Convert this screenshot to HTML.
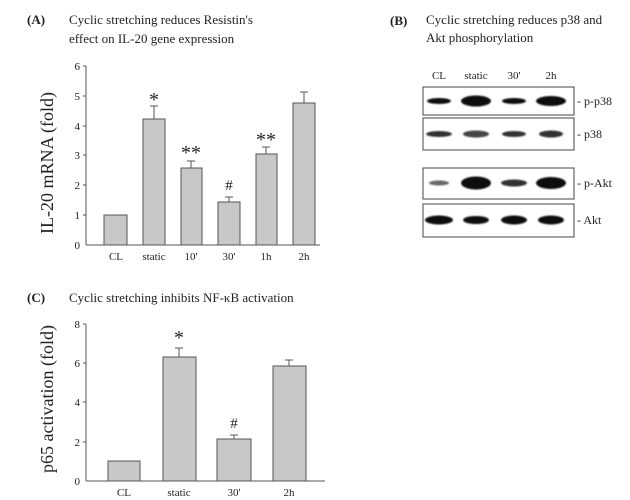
<!DOCTYPE html>
<html><head><meta charset="utf-8"><style>body{margin:0;background:#fff}svg{display:block}</style></head><body>
<svg width="630" height="500" xmlns="http://www.w3.org/2000/svg" font-family="Liberation Serif, serif" fill="#222">
<defs><filter id="b" x="-30%" y="-100%" width="160%" height="300%"><feGaussianBlur stdDeviation="0.9"/></filter></defs>
<!-- Panel A -->
<text x="27" y="24" font-size="13" font-weight="bold">(A)</text>
<text x="69" y="24" font-size="13">Cyclic stretching reduces Resistin's</text>
<text x="69" y="43" font-size="13">effect on IL-20 gene expression</text>
<g stroke="#555" stroke-width="1">
<line x1="86" y1="66" x2="86" y2="245"/><line x1="86" y1="245" x2="320" y2="245"/>
<line x1="83" y1="66" x2="86" y2="66"/><line x1="83" y1="96" x2="86" y2="96"/><line x1="83" y1="126" x2="86" y2="126"/><line x1="83" y1="155" x2="86" y2="155"/><line x1="83" y1="185" x2="86" y2="185"/><line x1="83" y1="215" x2="86" y2="215"/>
</g>
<g font-size="11" text-anchor="end"><text x="80" y="70">6</text><text x="80" y="100">5</text><text x="80" y="130">4</text><text x="80" y="159">3</text><text x="80" y="189">2</text><text x="80" y="219">1</text><text x="80" y="249">0</text></g>
<text transform="translate(53,163) rotate(-90)" font-size="18" text-anchor="middle">IL-20 mRNA (fold)</text>
<g fill="#c8c8c8" stroke="#555">
<rect x="104" y="215" width="23" height="30"/><rect x="143" y="119" width="22" height="126"/><rect x="181" y="168" width="21" height="77"/><rect x="218" y="202" width="22" height="43"/><rect x="256" y="154" width="21" height="91"/><rect x="293" y="103" width="22" height="142"/>
</g>
<g stroke="#555"><path d="M154 119V106M150 106H158M191 168V161M187 161H195M229 202V197M225 197H233M266 154V147M262 147H270M304 103V92M300 92H308"/></g>
<g font-size="20" text-anchor="middle"><text x="154" y="106">*</text><text x="191" y="159">**</text><text x="266" y="146">**</text><text x="229" y="190" font-size="15">#</text></g>
<g font-size="11" text-anchor="middle"><text x="116" y="260">CL</text><text x="154" y="260">static</text><text x="191" y="260">10'</text><text x="229" y="260">30'</text><text x="266" y="260">1h</text><text x="304" y="260">2h</text></g>
<!-- Panel B -->
<text x="390" y="25" font-size="13" font-weight="bold">(B)</text>
<text x="426" y="24" font-size="13">Cyclic stretching reduces p38 and</text>
<text x="426" y="42" font-size="13">Akt phosphorylation</text>
<g font-size="11" text-anchor="middle"><text x="439" y="79">CL</text><text x="476" y="79">static</text><text x="514" y="79">30'</text><text x="551" y="79">2h</text></g>
<g fill="#fff" stroke="#444"><rect x="423" y="87" width="151" height="28"/><rect x="423" y="118" width="151" height="32"/><rect x="423" y="168" width="151" height="31"/><rect x="423" y="204" width="151" height="33"/></g>
<g fill="#111" filter="url(#b)">
<ellipse cx="439" cy="101" rx="12" ry="3"/><ellipse cx="476" cy="101" rx="15" ry="5.5"/><ellipse cx="514" cy="101" rx="12" ry="3"/><ellipse cx="551" cy="101" rx="15" ry="5"/>
<ellipse cx="439" cy="134" rx="13" ry="3" fill="#333"/><ellipse cx="476" cy="134" rx="13" ry="3.5" fill="#444"/><ellipse cx="514" cy="134" rx="12" ry="3" fill="#333"/><ellipse cx="551" cy="134" rx="12" ry="3.5" fill="#333"/>
<ellipse cx="439" cy="183" rx="10" ry="2.5" fill="#666"/><ellipse cx="476" cy="183" rx="15" ry="6.5"/><ellipse cx="514" cy="183" rx="13" ry="3.5" fill="#333"/><ellipse cx="551" cy="183" rx="15" ry="6"/>
<ellipse cx="439" cy="220" rx="14" ry="4.5"/><ellipse cx="476" cy="220" rx="13" ry="4"/><ellipse cx="514" cy="220" rx="13" ry="4.5"/><ellipse cx="551" cy="220" rx="13" ry="4.5"/>
</g>
<g font-size="12"><text x="577" y="105">- p-p38</text><text x="577" y="138">- p38</text><text x="577" y="187">- p-Akt</text><text x="577" y="224">- Akt</text></g>
<!-- Panel C -->
<text x="27" y="302" font-size="13" font-weight="bold">(C)</text>
<text x="69" y="302" font-size="13">Cyclic stretching inhibits NF-κB activation</text>
<g stroke="#555"><line x1="86" y1="324" x2="86" y2="481"/><line x1="86" y1="481" x2="325" y2="481"/>
<line x1="83" y1="324" x2="86" y2="324"/><line x1="83" y1="363" x2="86" y2="363"/><line x1="83" y1="402" x2="86" y2="402"/><line x1="83" y1="442" x2="86" y2="442"/></g>
<g font-size="11" text-anchor="end"><text x="80" y="328">8</text><text x="80" y="367">6</text><text x="80" y="406">4</text><text x="80" y="446">2</text><text x="80" y="485">0</text></g>
<text transform="translate(53,399) rotate(-90)" font-size="18" text-anchor="middle">p65 activation (fold)</text>
<g fill="#c8c8c8" stroke="#555"><rect x="108" y="461" width="32" height="20"/><rect x="163" y="357" width="33" height="124"/><rect x="217" y="439" width="34" height="42"/><rect x="273" y="366" width="33" height="115"/></g>
<g stroke="#555"><path d="M179 357V348M175 348H183M234 439V435M230 435H238M289 366V360M285 360H293"/></g>
<g text-anchor="middle"><text x="179" y="344" font-size="20">*</text><text x="234" y="428" font-size="15">#</text></g>
<g font-size="11" text-anchor="middle"><text x="124" y="496">CL</text><text x="179" y="496">static</text><text x="234" y="496">30'</text><text x="289" y="496">2h</text></g>
</svg>
</body></html>
